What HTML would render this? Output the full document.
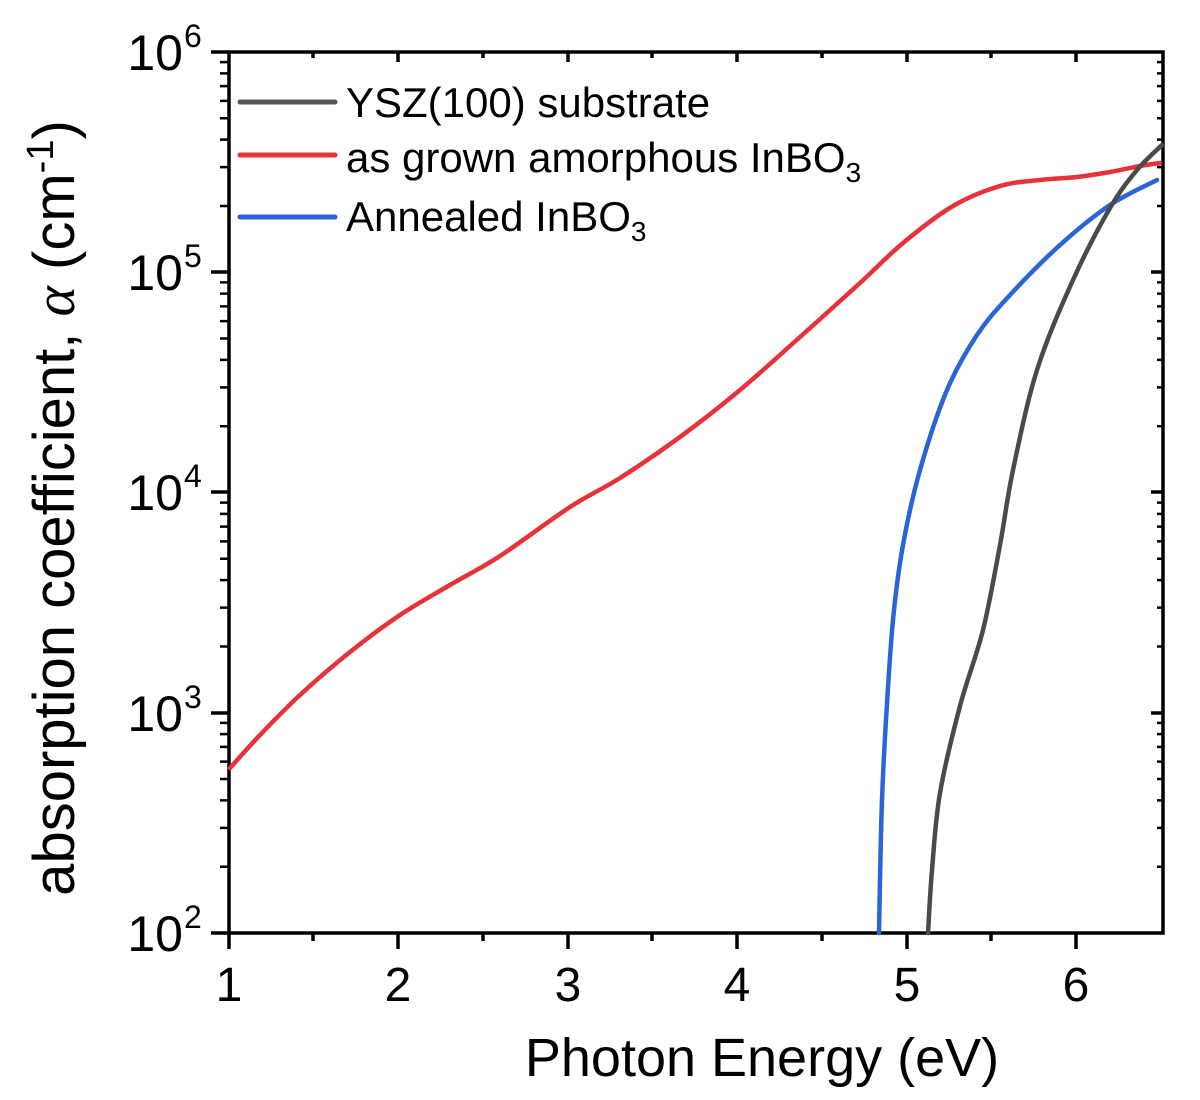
<!DOCTYPE html>
<html><head><style>body{margin:0;background:#fff}svg{display:block}text{font-family:"Liberation Sans",sans-serif;fill:#000}</style></head><body>
<svg id="s" width="1200" height="1100" xmlns="http://www.w3.org/2000/svg">
<g stroke="#000" stroke-width="3.5" fill="none">
<rect x="229" y="52" width="934" height="881"/>
<path d="M229 933v16M398 933v16M568 933v16M737 933v16M907 933v16M1076 933v16M313 933v8M483 933v8M652 933v8M822 933v8M991 933v8
M398 52v10M568 52v10M737 52v10M907 52v10M1076 52v10M313 52v6M483 52v6M652 52v6M822 52v6M991 52v6"/>
<path d="M211 52h18M211 272h18M211 492h18M211 713h18M211 933h18M1163 272h-12M1163 492h-12M1163 713h-12"/>
</g>
<g stroke="#000" stroke-width="2.5" id="minor"></g>
<g id="curves" fill="none" stroke-width="4.5" stroke-linejoin="round" stroke-linecap="round"></g>
<g stroke-width="5" stroke-linecap="round">
<path stroke="#555" d="M240 102h95"/><path stroke="#e8323a" d="M240 155h95"/><path stroke="#2b63d8" d="M240 217h95"/>
</g>
<g font-size="42">
<text x="346" y="117">YSZ(100) substrate</text>
<text x="346" y="172">as grown amorphous InBO<tspan font-size="28" dy="10">3</tspan></text>
<text x="346" y="231">Annealed InBO<tspan font-size="28" dy="10">3</tspan></text>
</g>
<g font-size="50" text-anchor="end">
<text x="183" y="70">10</text><text x="183" y="290">10</text><text x="183" y="510">10</text><text x="183" y="731">10</text><text x="183" y="951">10</text>
</g>
<g font-size="32">
<text x="184" y="47">6</text><text x="184" y="267">5</text><text x="184" y="487">4</text><text x="184" y="708">3</text><text x="184" y="928">2</text>
</g>
<g font-size="48" text-anchor="middle">
<text x="229" y="1001">1</text><text x="398" y="1001">2</text><text x="568" y="1001">3</text><text x="737" y="1001">4</text><text x="907" y="1001">5</text><text x="1076" y="1001">6</text>
</g>
<text x="762" y="1076" font-size="54" text-anchor="middle">Photon Energy (eV)</text>
<text transform="translate(74,508) rotate(-90)" font-size="58" text-anchor="middle">absorption coefficient, <tspan font-family="Liberation Serif" font-style="italic">α</tspan> (cm<tspan font-size="38" dy="-21">-1</tspan><tspan dy="21">)</tspan></text>
</svg>
<script>
var NS='http://www.w3.org/2000/svg';
var g=document.getElementById('minor'),s='';
for(var d=0;d<4;d++){var b=933-d*220.25;for(var k=2;k<10;k++){var y=b-Math.log10(k)*220.25;s+='M220 '+y+'h9M1163 '+y+'h-6';}}
var p=document.createElementNS(NS,'path');p.setAttribute('d',s);p.setAttribute('fill','none');g.appendChild(p);
function cr(P){var d='M'+P[0][0]+' '+P[0][1];for(var i=0;i<P.length-1;i++){var p0=P[i?i-1:0],p1=P[i],p2=P[i+1],p3=P[i+2<P.length?i+2:i+1];
d+=' C'+(p1[0]+(p2[0]-p0[0])/6)+' '+(p1[1]+(p2[1]-p0[1])/6)+' '+(p2[0]-(p3[0]-p1[0])/6)+' '+(p2[1]-(p3[1]-p1[1])/6)+' '+p2[0]+' '+p2[1];}return d;}
var C=document.getElementById('curves');
function add(col,P){var e=document.createElementNS(NS,'path');e.setAttribute('stroke',col);e.setAttribute('d',cr(P));C.appendChild(e);}
add('#e8323a',[[230,768],[260,735],[300,695],[350,652],[400,615],[450,585],[500,556],[570,507],[620,478],[680,437],[740,390],[800,337],[860,283],[903,243],[953,206],[1000,186],[1040,180],[1077,177],[1110,172],[1140,166],[1160,163]]);
add('#2b63d8',[[879,933],[880,880],[882,800],[886,720],[893,620],[903,545],[920,470],[947,390],[977,335],[1010,295],[1060,245],[1110,205],[1157,180]]);
add('#4a4a4a',[[928,933],[932,870],[940,793],[960,706],[983,630],[1000,545],[1013,470],[1037,370],[1073,280],[1110,208],[1137,170],[1162,145]]);
</script>
</body></html>
